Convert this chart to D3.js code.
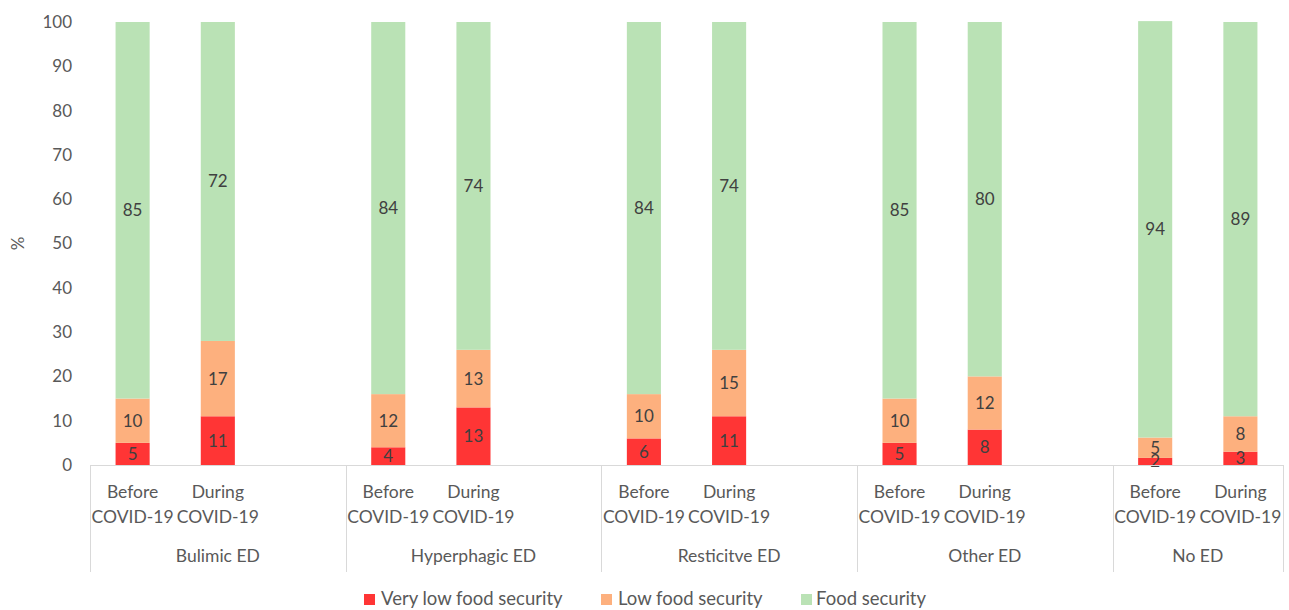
<!DOCTYPE html>
<html><head><meta charset="utf-8">
<script src="https://cdn.jsdelivr.net/npm/d3@7"></script>
<style>
body{margin:0;background:#fff;}
svg text{font-family:Lato,"Open Sans",sans-serif;fill:#595959;}
</style></head>
<body><svg id="c" width="1289" height="610"></svg>
<script>
const groups = ["Bulimic ED","Hyperphagic ED","Resticitve ED","Other ED","No ED"];
const periods = ["Before\nCOVID-19","During\nCOVID-19"];
const seriesNames = ["Very low food security","Low food security","Food security"];
const veryLow = [5,11,4,13,6,11,5,8,1.6,3];
const low = [10,17,12,13,10,15,10,12,4.6,8];
const secure = [85,72,84,74,84,74,85,80,94,89];
const yTicks = [0,10,20,30,40,50,60,70,80,90,100];
const colors = ["#FF3535","#FDB07E","#BAE2B5"];

(function(){
const svg = d3.select("#c");
const mLeft = 90, mRight = 1283, mTop = 22, mBottom = 465;
const fmt = d3.format(".0f");

const slots = [];
groups.forEach((g,gi)=>{
  periods.forEach((p,pi)=>slots.push({key:gi+"-"+pi,g:gi,p:pi,idx:gi*2+pi}));
  if(gi<groups.length-1) slots.push({key:gi+"-blank",g:gi,p:-1});
});
const x = d3.scaleBand().domain(slots.map(s=>s.key)).range([mLeft,mRight]).paddingInner(0.6).paddingOuter(0.3);
const y = d3.scaleLinear().domain([0,100]).range([mBottom,mTop]);

const seriesVals = [veryLow,low,secure];
const bars = slots.filter(s=>s.p>=0);
bars.forEach(b=>{
  let acc=0;
  b.segs = seriesVals.map((arr,si)=>{const v=arr[b.idx];const s={si,v,y0:acc,y1:acc+v};acc+=v;return s;});
});

const yAxis = d3.axisLeft(y).tickValues(yTicks).tickSize(0).tickPadding(18);
const ga = svg.append("g").attr("transform",`translate(${mLeft},0)`).call(yAxis);
ga.select(".domain").remove();
ga.selectAll("text").style("font-size","17px").style("fill","#595959").style("font-family","Lato");

svg.append("text").attr("transform",`translate(24,${(mTop+mBottom)/2}) rotate(-90)`).attr("text-anchor","middle")
  .style("font-size","17px").text("%");

const bg = svg.append("g");
bars.forEach(b=>{
  b.segs.forEach(s=>{
    bg.append("rect").attr("x",x(b.key)).attr("width",x.bandwidth())
      .attr("y",y(s.y1)).attr("height",y(s.y0)-y(s.y1)).attr("fill",colors[s.si]);
  });
});
bars.forEach(b=>{
  b.segs.forEach(s=>{
    bg.append("text").attr("x",x(b.key)+x.bandwidth()/2).attr("y",y((s.y0+s.y1)/2))
      .attr("dy","0.35em").attr("text-anchor","middle").style("font-size","17px")
      .style("fill","#404040").text(fmt(s.v));
  });
});

const ax = svg.append("g");
ax.append("line").attr("x1",mLeft).attr("x2",mRight).attr("y1",mBottom+0.5).attr("y2",mBottom+0.5).attr("stroke","#d9d9d9").attr("stroke-width",1);
const step = x.step();
const bounds = [mLeft];
groups.forEach((g,gi)=>{
  const end = gi<groups.length-1 ? x(gi+"-blank")-x.paddingInner()*step/2 + step : mRight;
  bounds.push(end);
});
bounds.forEach(bx=>{
  ax.append("line").attr("x1",Math.round(bx)+0.5).attr("x2",Math.round(bx)+0.5).attr("y1",mBottom).attr("y2",572).attr("stroke","#d9d9d9");
});
bars.forEach(b=>{
  const cx = x(b.key)+x.bandwidth()/2;
  const lines = periods[b.p].split("\n");
  lines.forEach((l,li)=>{
    ax.append("text").attr("x",cx).attr("y",498+li*25).attr("text-anchor","middle").style("font-size","17.5px").text(l);
  });
});
groups.forEach((g,gi)=>{
  ax.append("text").attr("x",(bounds[gi]+bounds[gi+1])/2).attr("y",562).attr("text-anchor","middle").style("font-size","17.5px").text(g);
});

const leg = svg.append("g");
const legRect = [364,601,801];
const legText = [381,618,816];
seriesNames.forEach((n,i)=>{
  leg.append("rect").attr("x",legRect[i]).attr("y",594).attr("width",11).attr("height",11).attr("fill",colors[i]);
  leg.append("text").attr("x",legText[i]).attr("y",605).style("font-size","18.5px").text(n);
});
})();
</script></body></html>
